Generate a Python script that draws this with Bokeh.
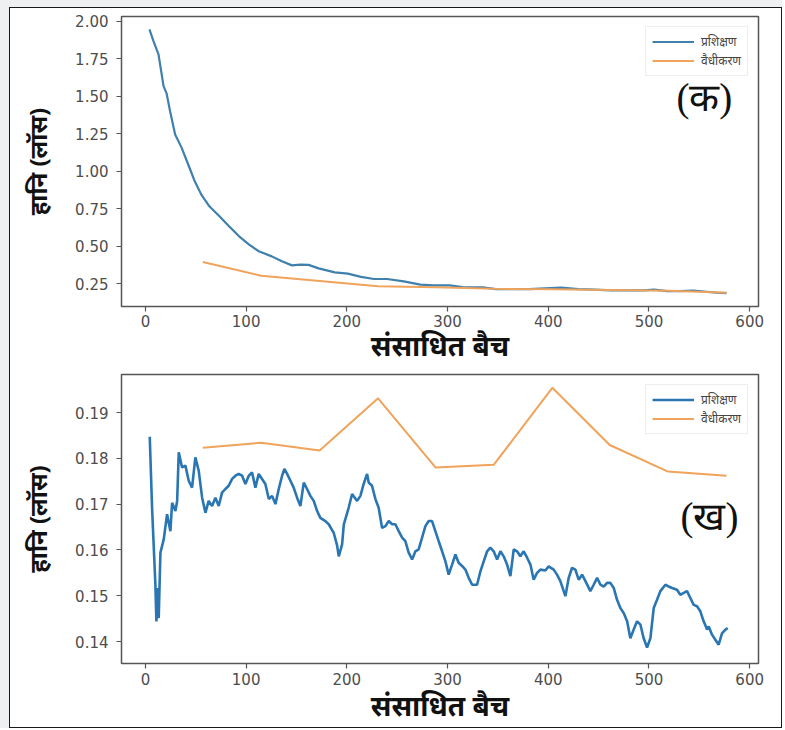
from bokeh.plotting import figure
from bokeh.models import FixedTicker, NumeralTickFormatter, Label, Legend, LegendItem, Range1d
from bokeh.layouts import column
from bokeh.embed import file_html
from bokeh.resources import INLINE

# ---------------- data ----------------
x_ticks = [0, 100, 200, 300, 400, 500, 600]
y_ticks_a = [0.25, 0.50, 0.75, 1.00, 1.25, 1.50, 1.75, 2.00]
y_ticks_b = [0.14, 0.15, 0.16, 0.17, 0.18, 0.19]

label_train = "प्रशिक्षण"
label_valid = "वैधीकरण"
x_title = "संसाधित बैच"
y_title = "हानि (लॉस)"
tag_a = "(क)"
tag_b = "(ख)"

# panel (a): training loss
train_x_a = [4, 8, 13, 18, 21, 24.5, 29.5, 36, 42.5, 49, 55.5, 63.5, 73.5, 83, 93, 103,
             112.5, 125.5, 135.5, 145.5, 153.5, 162, 172, 188, 201, 214, 227, 240, 256.5,
             273, 286, 302, 315, 335, 348, 364, 381, 397, 413, 430, 446, 462, 479, 495,
             505, 518, 531, 544, 557, 567, 577]
train_y_a = [1.947, 1.868, 1.78, 1.568, 1.52, 1.40, 1.245, 1.156, 1.045, 0.933, 0.844,
             0.766, 0.70, 0.633, 0.566, 0.51, 0.466, 0.432, 0.40, 0.372, 0.377, 0.375,
             0.352, 0.325, 0.317, 0.295, 0.281, 0.281, 0.265, 0.243, 0.238, 0.238, 0.227,
             0.225, 0.214, 0.214, 0.214, 0.219, 0.223, 0.214, 0.21, 0.205, 0.205, 0.205,
             0.21, 0.20, 0.20, 0.203, 0.196, 0.19, 0.187]

# validation checkpoints (shared x)
valid_x = [57, 115, 173, 231, 288, 346, 404, 461, 519, 577]
valid_y_a = [0.395, 0.303, 0.268, 0.232, 0.226, 0.216, 0.212, 0.207, 0.202, 0.190]
valid_y_b = [0.1823, 0.1834, 0.1817, 0.1931, 0.1780, 0.1786, 0.1954, 0.1829, 0.1771, 0.1762]

# panel (b): training loss
train_x_b = [4.3, 6.6, 9.9, 10.9, 12.2, 13.2, 14.9, 18.2, 21.5, 24.8, 26.5, 29.8, 31.5, 33.1,
             36.4, 39.7, 43.0, 46.3, 49.6, 52.9, 56.3, 59.6, 62.8, 66.2, 69.5, 72.8, 76.1,
             79.4, 82.7, 86.1, 89.4, 92.6, 96.0, 99.3, 102.6, 105.9, 109.2, 112.5, 115.8,
             119.1, 122.5, 125.8, 129.1, 132.4, 135.7, 138.0, 140.7, 144.0, 147.2, 150.6,
             153.9, 157.2, 160.5, 163.8, 167.1, 170.5, 173.7, 178.7, 182.0, 187.0, 190.3,
             192.0, 195.3, 197.0, 201.8, 205.2, 210.2, 213.5, 216.7, 220.1, 221.7, 225.0,
             228.4, 231.6, 235.0, 238.3, 241.6, 245.0, 248.2, 251.5, 254.9, 258.1, 261.4,
             264.8, 268.1, 271.3, 274.7, 278.0, 281.3, 284.6, 287.9, 291.2, 294.6, 297.9,
             301.1, 304.5, 307.8, 311.0, 314.4, 317.7, 321.0, 324.4, 329.3, 332.6, 335.9,
             339.3, 342.5, 345.8, 349.2, 352.5, 355.7, 359.1, 362.4, 365.7, 369.0, 372.3,
             375.6, 379.0, 382.3, 385.5, 388.9, 392.2, 397.1, 400.4, 405.4, 408.7, 412.0,
             417.0, 420.3, 423.6, 426.9, 430.2, 433.6, 436.9, 441.8, 445.1, 448.5, 451.8,
             455.0, 458.4, 461.7, 465.0, 468.3, 471.6, 474.9, 478.3, 481.5, 484.8, 488.2,
             491.5, 494.7, 498.1, 501.4, 504.7, 508.0, 511.3, 516.3, 519.6, 522.9, 527.8,
             531.1, 534.5, 537.8, 541.1, 544.4, 547.7, 551.0, 554.3, 557.7, 559.3, 562.6,
             565.9, 569.2, 572.5, 575.9, 578.2]
train_y_b = [0.1847, 0.1692, 0.1524, 0.1444, 0.1517, 0.1451, 0.1594, 0.1623, 0.1678, 0.1641,
             0.1703, 0.1685, 0.1707, 0.1813, 0.1780, 0.1784, 0.1751, 0.1736, 0.1802, 0.1773,
             0.1714, 0.1681, 0.1707, 0.1696, 0.1714, 0.1696, 0.1725, 0.1733, 0.1740, 0.1755,
             0.1762, 0.1766, 0.1762, 0.1744, 0.1762, 0.1769, 0.1736, 0.1766, 0.1755, 0.1744,
             0.1711, 0.1718, 0.1700, 0.1733, 0.1762, 0.1777, 0.1766, 0.1751, 0.1736, 0.1714,
             0.1696, 0.1747, 0.1733, 0.1718, 0.1707, 0.1685, 0.1670, 0.1663, 0.1656, 0.1637,
             0.1610, 0.1586, 0.1612, 0.1656, 0.1692, 0.1722, 0.1707, 0.1718, 0.1744, 0.1766,
             0.1747, 0.1740, 0.1711, 0.1692, 0.1648, 0.1652, 0.1663, 0.1656, 0.1656, 0.1641,
             0.1627, 0.1619, 0.1594, 0.1579, 0.1597, 0.1601, 0.1627, 0.1652, 0.1663, 0.1663,
             0.1641, 0.1619, 0.1597, 0.1575, 0.1546, 0.1568, 0.1590, 0.1572, 0.1565, 0.1557,
             0.1539, 0.1524, 0.1524, 0.1553, 0.1575, 0.1597, 0.1605, 0.1597, 0.1579, 0.1597,
             0.1586, 0.1568, 0.1543, 0.1601, 0.1597, 0.1586, 0.1597, 0.1583, 0.1568, 0.1535,
             0.1550, 0.1557, 0.1555, 0.1564, 0.1557, 0.1546, 0.1532, 0.1499, 0.1539, 0.1561,
             0.1557, 0.1535, 0.1546, 0.1532, 0.1510, 0.1524, 0.1539, 0.1524, 0.1520, 0.1528,
             0.1528, 0.1517, 0.1491, 0.1473, 0.1462, 0.1444, 0.1407, 0.1426, 0.1444, 0.1437,
             0.1407, 0.1387, 0.1407, 0.1473, 0.1491, 0.1510, 0.1524, 0.1520, 0.1517, 0.1513,
             0.1502, 0.1506, 0.1510, 0.1495, 0.1480, 0.1477, 0.1466, 0.1444, 0.1426, 0.1433,
             0.1415, 0.1404, 0.1393, 0.1418, 0.1426, 0.1429]

# ---------------- styling ----------------
BLUE_A = "#3f80ad"
BLUE_B = "#2a76b2"
ORANGE = "#f0a35a"
FRAME = "#555555"
TICK_TXT = "#4d4d4d"
DEV_FONT = "Noto Sans"


def style_panel(p, y_ticks, y_fmt, x_label_standoff, x_tick_standoff):
    p.background_fill_color = "white"
    p.border_fill_color = "white"
    p.outline_line_color = FRAME
    p.outline_line_width = 1.5
    p.xgrid.visible = False
    p.ygrid.visible = False
    for ax in (p.xaxis[0], p.yaxis[0]):
        ax.axis_line_color = None
        ax.major_tick_line_color = FRAME
        ax.major_tick_line_width = 1.2
        ax.major_tick_out = 5
        ax.major_tick_in = 0
        ax.minor_tick_line_color = None
        ax.major_label_text_font = "DejaVu Sans"
        ax.major_label_text_font_size = "15px"
        ax.major_label_text_color = TICK_TXT
        ax.axis_label_text_font = DEV_FONT
        ax.axis_label_text_font_style = "bold"
        ax.axis_label_text_color = "#111111"
    p.xaxis[0].ticker = FixedTicker(ticks=x_ticks)
    p.yaxis[0].ticker = FixedTicker(ticks=y_ticks)
    p.yaxis[0].formatter = NumeralTickFormatter(format=y_fmt)
    p.xaxis[0].axis_label = x_title
    p.yaxis[0].axis_label = y_title
    p.xaxis[0].axis_label_text_font_size = "28px"
    p.yaxis[0].axis_label_text_font_size = "24px"
    p.xaxis[0].major_label_standoff = x_tick_standoff
    p.yaxis[0].major_label_standoff = 8
    p.xaxis[0].axis_label_standoff = x_label_standoff
    p.yaxis[0].axis_label_standoff = 18


def add_legend(p, r_train, r_valid):
    leg = Legend(items=[LegendItem(label=label_train, renderers=[r_train]),
                        LegendItem(label=label_valid, renderers=[r_valid])],
                 location="top_right")
    leg.label_text_font = DEV_FONT
    leg.label_text_font_size = "12px"
    leg.label_text_color = "#444444"
    leg.glyph_width = 42
    leg.glyph_height = 15
    leg.label_height = 15
    leg.label_standoff = 7
    leg.spacing = 2
    leg.padding = 6
    leg.margin = 10
    leg.border_line_color = "#dddddd"
    leg.border_line_width = 1
    leg.background_fill_alpha = 0.9
    p.add_layout(leg)


# ---------------- panel (a) ----------------
p1 = figure(width=771, height=360, output_backend="svg", toolbar_location=None,
            x_range=Range1d(-23.75, 608.75), y_range=Range1d(0.0975, 2.0325),
            min_border_left=111, min_border_right=18, min_border_top=8, min_border_bottom=62)
ra_t = p1.line(train_x_a, train_y_a, line_color=BLUE_A, line_width=2.2)
ra_v = p1.line(valid_x, valid_y_a, line_color=ORANGE, line_width=2.0)
style_panel(p1, y_ticks_a, "0.00", -4, 3)
add_legend(p1, ra_t, ra_v)
p1.add_layout(Label(x=555, y=1.49, text=tag_a, text_font="Liberation Serif",
                    text_font_size="39px", text_color="#111111",
                    text_align="center", text_baseline="middle"))

# ---------------- panel (b) ----------------
p2 = figure(width=771, height=359, output_backend="svg", toolbar_location=None,
            x_range=Range1d(-23.75, 608.75), y_range=Range1d(0.1352, 0.1983),
            min_border_left=111, min_border_right=23, min_border_top=6, min_border_bottom=64)
rb_t = p2.line(train_x_b, train_y_b, line_color=BLUE_B, line_width=2.6)
rb_v = p2.line(valid_x, valid_y_b, line_color=ORANGE, line_width=2.0)
style_panel(p2, y_ticks_b, "0.00", -2, 4)
add_legend(p2, rb_t, rb_v)
p2.add_layout(Label(x=560, y=0.1674, text=tag_b, text_font="Liberation Serif",
                    text_font_size="39px", text_color="#111111",
                    text_align="center", text_baseline="middle"))

inner = column(p1, p2, spacing=0, margin=(7, 0, 0, 9),
               styles={"border": "1.5px solid #1a1a1a", "background-color": "white"})
outer = column(inner, spacing=0, styles={"background-color": "#eef0f2"})

open("out.html", "w").write(file_html(outer, INLINE))
